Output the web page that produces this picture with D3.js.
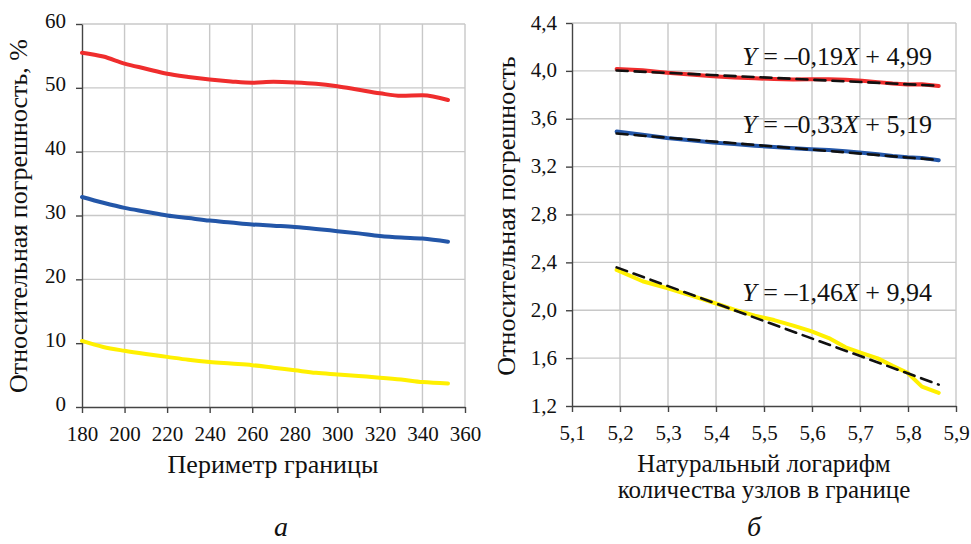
<!DOCTYPE html>
<html>
<head>
<meta charset="utf-8">
<script src="https://cdn.jsdelivr.net/npm/d3@7"></script>
<style>
  body { margin: 0; background: #fff; }
</style>
</head>
<body>
<svg id="chart" width="971" height="544"></svg>
<script>
"use strict";

// ---- Data
// panel a: perimeter vs relative error, %
const perimeter = [180,190,200,210,220,230,240,250,260,270,280,290,300,310,320,330,340,352];
const errRed    = [55.5,54.9,53.8,53.0,52.2,51.7,51.3,51.0,50.8,50.95,50.85,50.65,50.25,49.7,49.15,48.75,48.85,48.1];
const errBlue   = [32.9,32.0,31.2,30.6,30.0,29.6,29.2,28.9,28.6,28.4,28.2,27.9,27.55,27.2,26.8,26.55,26.4,25.9];
const errYellow = [10.35,9.4,8.8,8.3,7.85,7.4,7.05,6.8,6.55,6.15,5.75,5.35,5.1,4.85,4.6,4.3,3.9,3.7];

// panel б: ln(nodes) vs relative error (log)
const lnNodes = [5.193,5.247,5.298,5.347,5.394,5.438,5.481,5.521,5.561,5.598,5.635,5.670,5.704,5.737,5.768,5.799,5.829,5.864];
const lnRed    = [4.016,4.005,3.985,3.970,3.955,3.945,3.938,3.932,3.928,3.931,3.929,3.925,3.917,3.906,3.895,3.887,3.889,3.873];
const lnBlue   = [3.493,3.466,3.440,3.421,3.401,3.388,3.374,3.364,3.353,3.346,3.339,3.329,3.316,3.303,3.288,3.279,3.273,3.254];
const lnYellow = [2.337,2.242,2.185,2.125,2.065,2.005,1.955,1.918,1.872,1.825,1.768,1.690,1.642,1.598,1.535,1.478,1.362,1.310];

// fitted lines Y = kX + b
const fitK = [-0.19, -0.33, -1.46];
const fitB = [4.99, 5.19, 9.94];
const fitLabels = ["–0,19", "–0,33", "–1,46"];
const fitConst = ["4,99", "5,19", "9,94"];

const xTicksA = [180,200,220,240,260,280,300,320,340,360];
const yTicksA = [0,10,20,30,40,50,60];
const xTicksB = [5.1,5.2,5.3,5.4,5.5,5.6,5.7,5.8,5.9];
const yTicksB = [1.2,1.6,2.0,2.4,2.8,3.2,3.6,4.0,4.4];

const colors = ["#ef2d2d", "#2356a8", "#fff000"];
const FONT = '"Liberation Serif", serif';

const svg = d3.select("#chart");
const comma = d => d.toFixed(1).replace(".", ",");

function label(x, y, str, size, rot) {
  return svg.append("text")
    .attr("transform", rot ? `translate(${x},${y}) rotate(-90)` : null)
    .attr("x", rot ? 0 : x).attr("y", rot ? 0 : y)
    .attr("text-anchor", "middle").attr("fill", "#111")
    .style("font-family", FONT).style("font-size", size + "px").text(str);
}

function panel(opt) {
  const x = d3.scaleLinear().domain(opt.xDomain).range([opt.x0, opt.x1]);
  const y = d3.scaleLinear().domain(opt.yDomain).range([opt.y1, opt.y0]);
  const g = svg.append("g");

  // grid
  g.append("g").selectAll("line").data(opt.xTicks.slice(1)).join("line")
    .attr("x1", d => x(d)).attr("x2", d => x(d)).attr("y1", opt.y0).attr("y2", opt.y1)
    .attr("stroke", "#c8c8c8").attr("stroke-width", 1.4);
  g.append("g").selectAll("line").data(opt.yTicks.slice(1)).join("line")
    .attr("y1", d => y(d)).attr("y2", d => y(d)).attr("x1", opt.x0).attr("x2", opt.x1)
    .attr("stroke", "#c8c8c8").attr("stroke-width", 1.4);

  // axes
  const ax = g.append("g").attr("transform", `translate(0,${opt.y1})`)
    .call(d3.axisBottom(x).tickValues(opt.xTicks).tickSize(6).tickSizeOuter(0).tickFormat(opt.fmt));
  const ay = g.append("g").attr("transform", `translate(${opt.x0},0)`)
    .call(d3.axisLeft(y).tickValues(opt.yTicks).tickSize(6).tickSizeOuter(0).tickFormat(opt.fmt));
  [ax, ay].forEach(a => {
    a.attr("font-family", null);
    a.select(".domain").attr("stroke", "#444").attr("stroke-width", 1.4);
    a.selectAll(".tick line").attr("stroke", "#444").attr("stroke-width", 1.4);
    a.selectAll("text").style("font-family", FONT).style("font-size", "21px").attr("fill", "#111");
  });
  ax.selectAll("text").attr("dy", 0).attr("y", 34);
  ay.selectAll("text").attr("x", opt.yLabGap).attr("dy", 0).attr("y", opt.yLabDrop);

  // series
  opt.series.forEach((s, i) => {
    g.append("path").datum(opt.xs.map((v, j) => [v, s[j]]))
      .attr("fill", "none").attr("stroke", colors[i]).attr("stroke-width", 4)
      .attr("stroke-linejoin", "round").attr("stroke-linecap", "round")
      .attr("d", d3.line().x(d => x(d[0])).y(d => y(d[1])).curve(opt.curve));
  });
  return {x, y, g};
}

// ---- Panel a
panel({
  x0: 82, x1: 465, y0: 24, y1: 407,
  xDomain: [180, 360], yDomain: [0, 60],
  xTicks: xTicksA, yTicks: yTicksA, fmt: d => d,
  yLabGap: -16, yLabDrop: 3,
  xs: perimeter, series: [errRed, errBlue, errYellow], curve: d3.curveMonotoneX
});
label(273, 473, "Периметр границы", 26);
label(27, 216, "Относительная погрешность, %", 26, true);
label(281, 536, "а", 28).style("font-style", "italic");

// ---- Panel б
const B = panel({
  x0: 572, x1: 956, y0: 23, y1: 406,
  xDomain: [5.1, 5.9], yDomain: [1.2, 4.4],
  xTicks: xTicksB, yTicks: yTicksB, fmt: comma,
  yLabGap: -15, yLabDrop: 6,
  xs: lnNodes, series: [lnRed, lnBlue, lnYellow], curve: d3.curveLinear
});

// fitted dashed lines
const xFit = [lnNodes[0], lnNodes[lnNodes.length - 1]];
fitK.forEach((k, i) => {
  B.g.append("line")
    .attr("x1", B.x(xFit[0])).attr("y1", B.y(k * xFit[0] + fitB[i]))
    .attr("x2", B.x(xFit[1])).attr("y2", B.y(k * xFit[1] + fitB[i]))
    .attr("stroke", "#111").attr("stroke-width", 2.6)
    .attr("stroke-dasharray", "11,7").attr("stroke-linecap", "round");
});

// equations
const eqY = [65, 133, 301];
fitK.forEach((k, i) => {
  const t = svg.append("text").attr("x", 932).attr("y", eqY[i]).attr("text-anchor", "end")
    .attr("fill", "#111").style("font-family", FONT).style("font-size", "26px");
  t.append("tspan").style("font-style", "italic").text("Y");
  t.append("tspan").text(" = " + fitLabels[i]);
  t.append("tspan").style("font-style", "italic").text("X");
  t.append("tspan").text(" + " + fitConst[i]);
});

label(764, 472, "Натуральный логарифм", 25);
label(764, 498, "количества узлов в границе", 25);
label(515, 216, "Относительная погрешность", 26, true);
label(754, 536, "б", 28).style("font-style", "italic");
</script>
</body>
</html>
